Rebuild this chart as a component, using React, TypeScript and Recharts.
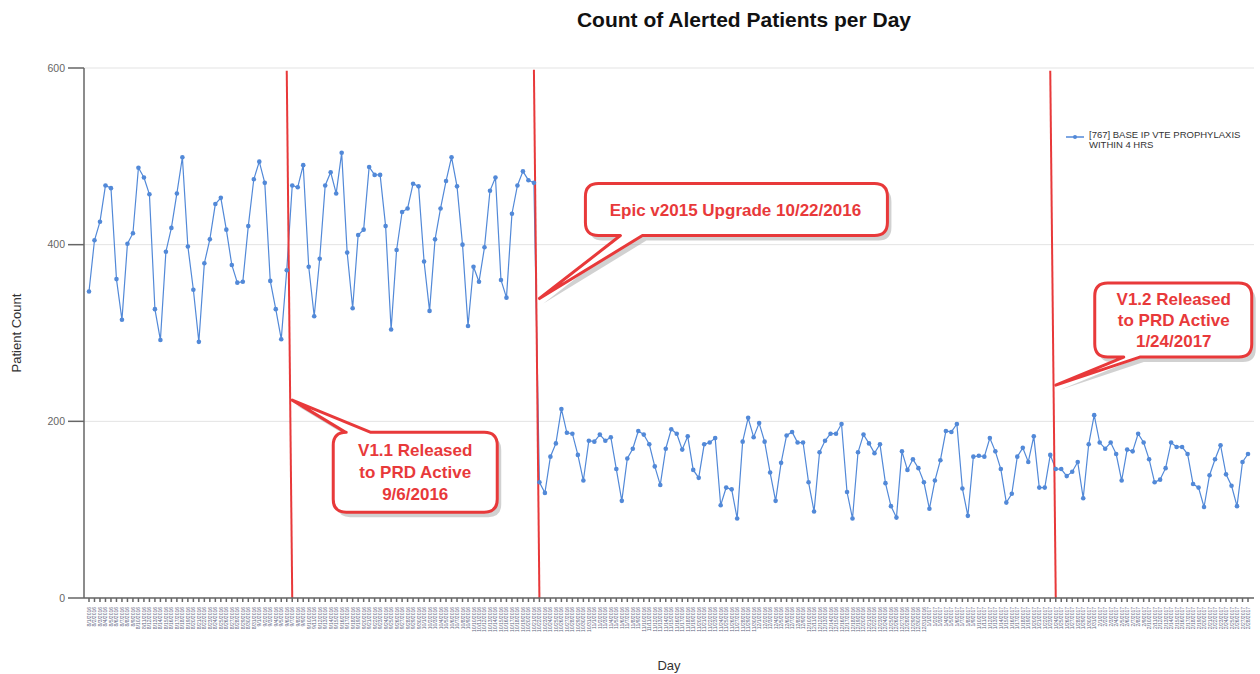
import React from 'react';
import {
  LineChart, Line, XAxis, YAxis, CartesianGrid, ReferenceLine, ReferenceDot,
} from 'recharts';

// daily counts, split by release period
const beforeV11 = [
  347, 405, 426, 467, 464, 361, 315, 401, 413, 487, 476, 457, 327, 292, 392, 419, 458, 499, 398, 349,
  290, 379, 406, 446, 453, 417, 377, 357, 358, 421, 474, 494, 470, 359, 327, 293, 371,
];
const v11ToEpic = [
  467, 465, 490, 375, 319, 384, 467, 482, 458, 504, 391, 328, 411, 417, 488, 479, 479, 421, 304, 394,
  437, 441, 469, 466, 381, 325, 406, 441, 472, 499, 466, 400, 308, 375, 358, 397, 461, 476, 360, 340,
  435, 467, 483, 473, 470,
];
const epicToV12 = [
  131, 119, 160, 175, 214, 187, 186, 162, 133, 178, 177, 185, 178, 182, 146, 110, 158, 169, 189, 185,
  174, 149, 128, 169, 191, 186, 168, 183, 145, 136, 174, 176, 181, 105, 125, 123, 90, 177, 204, 182,
  198, 177, 142, 110, 153, 184, 188, 176, 176, 131, 98, 165, 178, 186, 186, 197, 120, 90, 165, 185,
  175, 164, 174, 130, 104, 91, 166, 145, 157, 147, 131, 101, 133, 156, 189, 188, 197, 124, 93, 160,
  161, 160, 181, 166, 146, 108, 118, 160, 170, 154, 183, 125, 125, 162,
];
const afterV12 = [
  146, 146, 138, 143, 154, 113, 174, 207, 176, 169, 176, 163, 133, 168, 166, 186, 176, 157, 131, 134,
  147, 176, 171, 171, 163, 129, 125, 103, 139, 157, 173, 140, 127, 104, 154, 163,
];

const counts = [...beforeV11, ...v11ToEpic, ...epicToV12, ...afterV12];

// one category per day, 8/1/2016 .. 2/28/2017
const firstDay = new Date(2016, 7, 1);
const days = counts.map((_, i) => {
  const d = new Date(firstDay.getFullYear(), firstDay.getMonth(), firstDay.getDate() + i);
  return `${d.getMonth() + 1}/${d.getDate()}/${d.getFullYear()}`;
});

const data = days.map((day, i) => ({ day, count: counts[i] }));

const yTicks = [0, 200, 400, 600];
const seriesName = ['[767] BASE IP VTE PROPHYLAXIS', 'WITHIN 4 HRS'];

const calloutV11 = ['V1.1 Released', 'to PRD Active', '9/6/2016'];
const calloutEpic = ['Epic v2015 Upgrade 10/22/2016'];
const calloutV12 = ['V1.2 Released', 'to PRD Active', '1/24/2017'];

const RED = '#e8393a';
const BLUE = '#5289d8';
const FONT = '"Liberation Sans", Arial, sans-serif';

function bubblePath(x0: number, y0: number, x1: number, y1: number, edge: 'top' | 'bottom', a: number, b: number, tx: number, ty: number) {
  const r = 13;
  if (edge === 'top') {
    return `M${x0 + r},${y0} L${a},${y0} L${tx},${ty} L${b},${y0} L${x1 - r},${y0} Q${x1},${y0} ${x1},${y0 + r}
      L${x1},${y1 - r} Q${x1},${y1} ${x1 - r},${y1} L${x0 + r},${y1} Q${x0},${y1} ${x0},${y1 - r}
      L${x0},${y0 + r} Q${x0},${y0} ${x0 + r},${y0} Z`;
  }
  return `M${x0 + r},${y0} L${x1 - r},${y0} Q${x1},${y0} ${x1},${y0 + r}
    L${x1},${y1 - r} Q${x1},${y1} ${x1 - r},${y1} L${b},${y1} L${tx},${ty} L${a},${y1} L${x0 + r},${y1}
    Q${x0},${y1} ${x0},${y1 - r} L${x0},${y0 + r} Q${x0},${y0} ${x0 + r},${y0} Z`;
}

// speech bubble whose tail tip sits on the reference dot
function makeCallout(box: number[], edge: 'top' | 'bottom', tail: number[], lines: string[], textX: number, textY: number[]) {
  return (props: any) => {
    const { cx, cy } = props;
    if (cx == null || cy == null) return <g />;
    const d = bubblePath(cx + box[0], cy + box[1], cx + box[2], cy + box[3], edge, cx + tail[0], cx + tail[1], cx, cy);
    return (
      <g>
        <path d={d} transform="translate(4,5)" fill="#9a9a9a" opacity={0.45} />
        <path d={d} fill="#fff" stroke={RED} strokeWidth={3} strokeLinejoin="round" />
        {lines.map((t, i) => (
          <text key={i} x={cx + textX} y={cy + textY[i]} textAnchor="middle" fill={RED}
            fontFamily={FONT} fontWeight="bold" fontSize={17}>{t}</text>
        ))}
      </g>
    );
  };
}

const DayTick = (props: any) => {
  const { x, y, payload } = props;
  return (
    <text x={x} y={y + 3} transform={`rotate(-90, ${x}, ${y + 3})`} textAnchor="end" dominantBaseline="central"
      fontSize={5} fill="#5f6784" fontFamily={FONT}>{payload.value}</text>
  );
};

const YLabel = (props: any) => {
  const vb = props.viewBox || {};
  const x = vb.x + 16;
  const y = vb.y + vb.height / 2;
  return (
    <text x={x} y={y} transform={`rotate(-90, ${x}, ${y})`} textAnchor="middle" dominantBaseline="central"
      fontSize={13} fill="#333" fontFamily={FONT}>Patient Count</text>
  );
};

export default function App() {
  return (
    <div style={{ position: 'absolute', left: 0, top: 0, width: 1260, height: 674, background: '#fff', fontFamily: FONT }}>
      <div style={{ position: 'absolute', left: 0, width: 1488, top: 8, textAlign: 'center', fontWeight: 'bold', fontSize: 21, color: '#111' }}>
        Count of Alerted Patients per Day
      </div>
      <LineChart width={1260} height={674} data={data} margin={{ top: 68, right: 6, bottom: 6, left: 0 }}>
        <CartesianGrid vertical={false} stroke="#e3e3e3" />
        <XAxis dataKey="day" interval={0} tick={<DayTick />} tickSize={4} height={70}
          padding={{ left: 5, right: 6 }} stroke="#666" strokeWidth={1.5}
          label={{ value: 'Day', position: 'insideBottom', offset: -2, fontSize: 13, fill: '#333' }} />
        <YAxis domain={[0, 600]} ticks={yTicks} width={84} tickSize={16} tickMargin={3} stroke="#666" strokeWidth={1.5}
          tick={{ fontSize: 10.5, fill: '#666' }} label={<YLabel />} />
        <Line dataKey="count" stroke={BLUE} strokeWidth={1.2} isAnimationActive={false}
          dot={{ r: 2.3, fill: BLUE, stroke: BLUE, strokeWidth: 0 }} />
        <ReferenceLine segment={[{ x: days[36], y: 597 }, { x: days[37], y: 0 }]} stroke={RED} strokeWidth={2} ifOverflow="visible" />
        <ReferenceLine segment={[{ x: days[81], y: 598 }, { x: days[82], y: 0 }]} stroke={RED} strokeWidth={2} ifOverflow="visible" />
        <ReferenceLine segment={[{ x: days[175], y: 597 }, { x: days[176], y: 0 }]} stroke={RED} strokeWidth={2} ifOverflow="visible" />
        <ReferenceDot x={days[37]} y={224} ifOverflow="visible"
          shape={makeCallout([41, 32, 205, 112], 'top', [53, 78], calloutV11, 123, [56, 78, 100])} />
        <ReferenceDot x={days[82]} y={339} ifOverflow="visible"
          shape={makeCallout([46, -115, 348, -63], 'bottom', [81, 103], calloutEpic, 196, [-83])} />
        <ReferenceDot x={days[176]} y={241} ifOverflow="visible"
          shape={makeCallout([39, -102, 196, -28], 'bottom', [68, 84], calloutV12, 118, [-80, -59, -38])} />
      </LineChart>
      <div style={{ position: 'absolute', left: 1064, top: 130, display: 'flex', alignItems: 'flex-start' }}>
        <svg width={22} height={10} style={{ marginTop: 2 }}>
          <line x1={2} y1={5} x2={20} y2={5} stroke={BLUE} strokeWidth={1.5} />
          <circle cx={11} cy={5} r={2} fill={BLUE} />
        </svg>
        <div style={{ fontSize: 9.5, lineHeight: '10px', color: '#333', marginLeft: 3 }}>
          {seriesName.map((t) => <div key={t}>{t}</div>)}
        </div>
      </div>
    </div>
  );
}
